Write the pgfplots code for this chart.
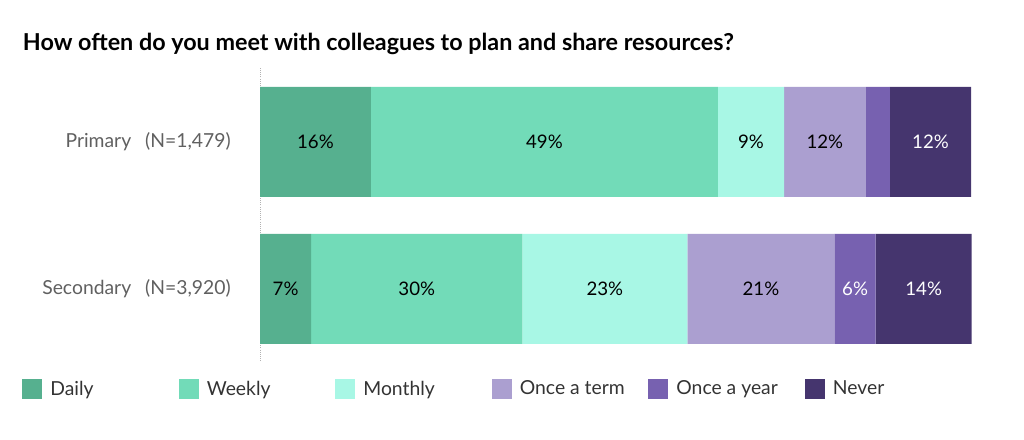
\documentclass[border=0pt]{standalone}
\usepackage{fontspec}
\setmainfont{Lato}
\usepackage{pgfplots}
\pgfplotsset{compat=1.18}
\usepackage{pgfplotstable}

\definecolor{cDaily}{HTML}{56B08F}
\definecolor{cWeekly}{HTML}{72DBB8}
\definecolor{cMonthly}{HTML}{A8F7E5}
\definecolor{cTerm}{HTML}{AB9FD0}
\definecolor{cYear}{HTML}{7761B0}
\definecolor{cNever}{HTML}{45356E}
\definecolor{labgray}{HTML}{606060}
\definecolor{leggray}{HTML}{333333}

% share of respondents (%), label = printed rounded value
\pgfplotstableread{
y daily dailyL weekly weeklyL monthly monthlyL term termL year yearL never neverL
1 15.6 16\% 48.8 49\% 9.3 9\% 11.5 12\% 3.4 {} 11.4 12\%
0 7.2 7\% 29.7 30\% 23.2 23\% 20.7 21\% 5.8 6\% 13.5 14\%
}\datatable

% one stacked segment: colour, label colour
% (compat 1.18 already centres nodes near coords in stacked bars)
\pgfplotsset{
  seg/.style 2 args={
    fill=#1, draw=none,
    point meta=explicit symbolic,
    nodes near coords,
    every node near coord/.append style={text=#2},
  },
}

\begin{document}
\begin{tikzpicture}
\useasboundingbox (0,0) rectangle (768pt,-329.25pt);
\node[anchor=base west, inner sep=0pt, font=\fontsize{17.5}{20}\selectfont\bfseries]
  at (17pt,-37.5pt) {How often do you meet with colleagues to plan and share resources?};
\begin{axis}[
    at={(195pt,-50.25pt)}, anchor=north west,
    scale only axis,
    width=533.25pt, height=220.5pt,
    xbar stacked,
    bar width=82.5pt,
    xmin=0, xmax=100,
    ymin=-0.49, ymax=1.51,
    clip=false,
    axis x line=none,
    axis y line*=left,
    y axis line style={densely dotted, gray!60, line width=0.6pt},
    ytick={0,1},
    yticklabels={{Secondary\hspace{10.5pt}(N=3,920)},{Primary\hspace{10.5pt}(N=1,479)}},
    major tick length=0pt,
    yticklabel style={font=\fontsize{14.5}{16}\selectfont, text=labgray, inner sep=0pt, xshift=-21.75pt},
    nodes near coords style={font=\fontsize{14}{16}\selectfont},
    legend columns=6,
    legend cell align=left,
    legend image code/.code={\fill[#1, draw=none] (0pt,-7.5pt) rectangle (15pt,7.5pt);},
    legend style={at={(-0.3347,-0.0952)}, anchor=west, draw=none, fill=none,
      inner sep=0pt, nodes={inner sep=0pt},
      font=\fontsize{14.5}{16}\selectfont, text=leggray,
      /tikz/every odd column/.append style={column sep=6pt}},
  ]
  \addplot[seg={cDaily}{black}] table[x=daily, y=y, meta=dailyL] {\datatable};
  \addplot[seg={cWeekly}{black}] table[x=weekly, y=y, meta=weeklyL] {\datatable};
  \addplot[seg={cMonthly}{black}] table[x=monthly, y=y, meta=monthlyL] {\datatable};
  \addplot[seg={cTerm}{black}] table[x=term, y=y, meta=termL] {\datatable};
  \addplot[seg={cYear}{white}] table[x=year, y=y, meta=yearL] {\datatable};
  \addplot[seg={cNever}{white}] table[x=never, y=y, meta=neverL] {\datatable};
  \legend{\makebox[96.4pt][l]{Daily}, \makebox[96.4pt][l]{Weekly},
    \makebox[96.4pt][l]{Monthly}, \makebox[96.4pt][l]{Once a term},
    \makebox[96.4pt][l]{Once a year}, \makebox[96.4pt][l]{Never}}
\end{axis}
\end{tikzpicture}
\end{document}
